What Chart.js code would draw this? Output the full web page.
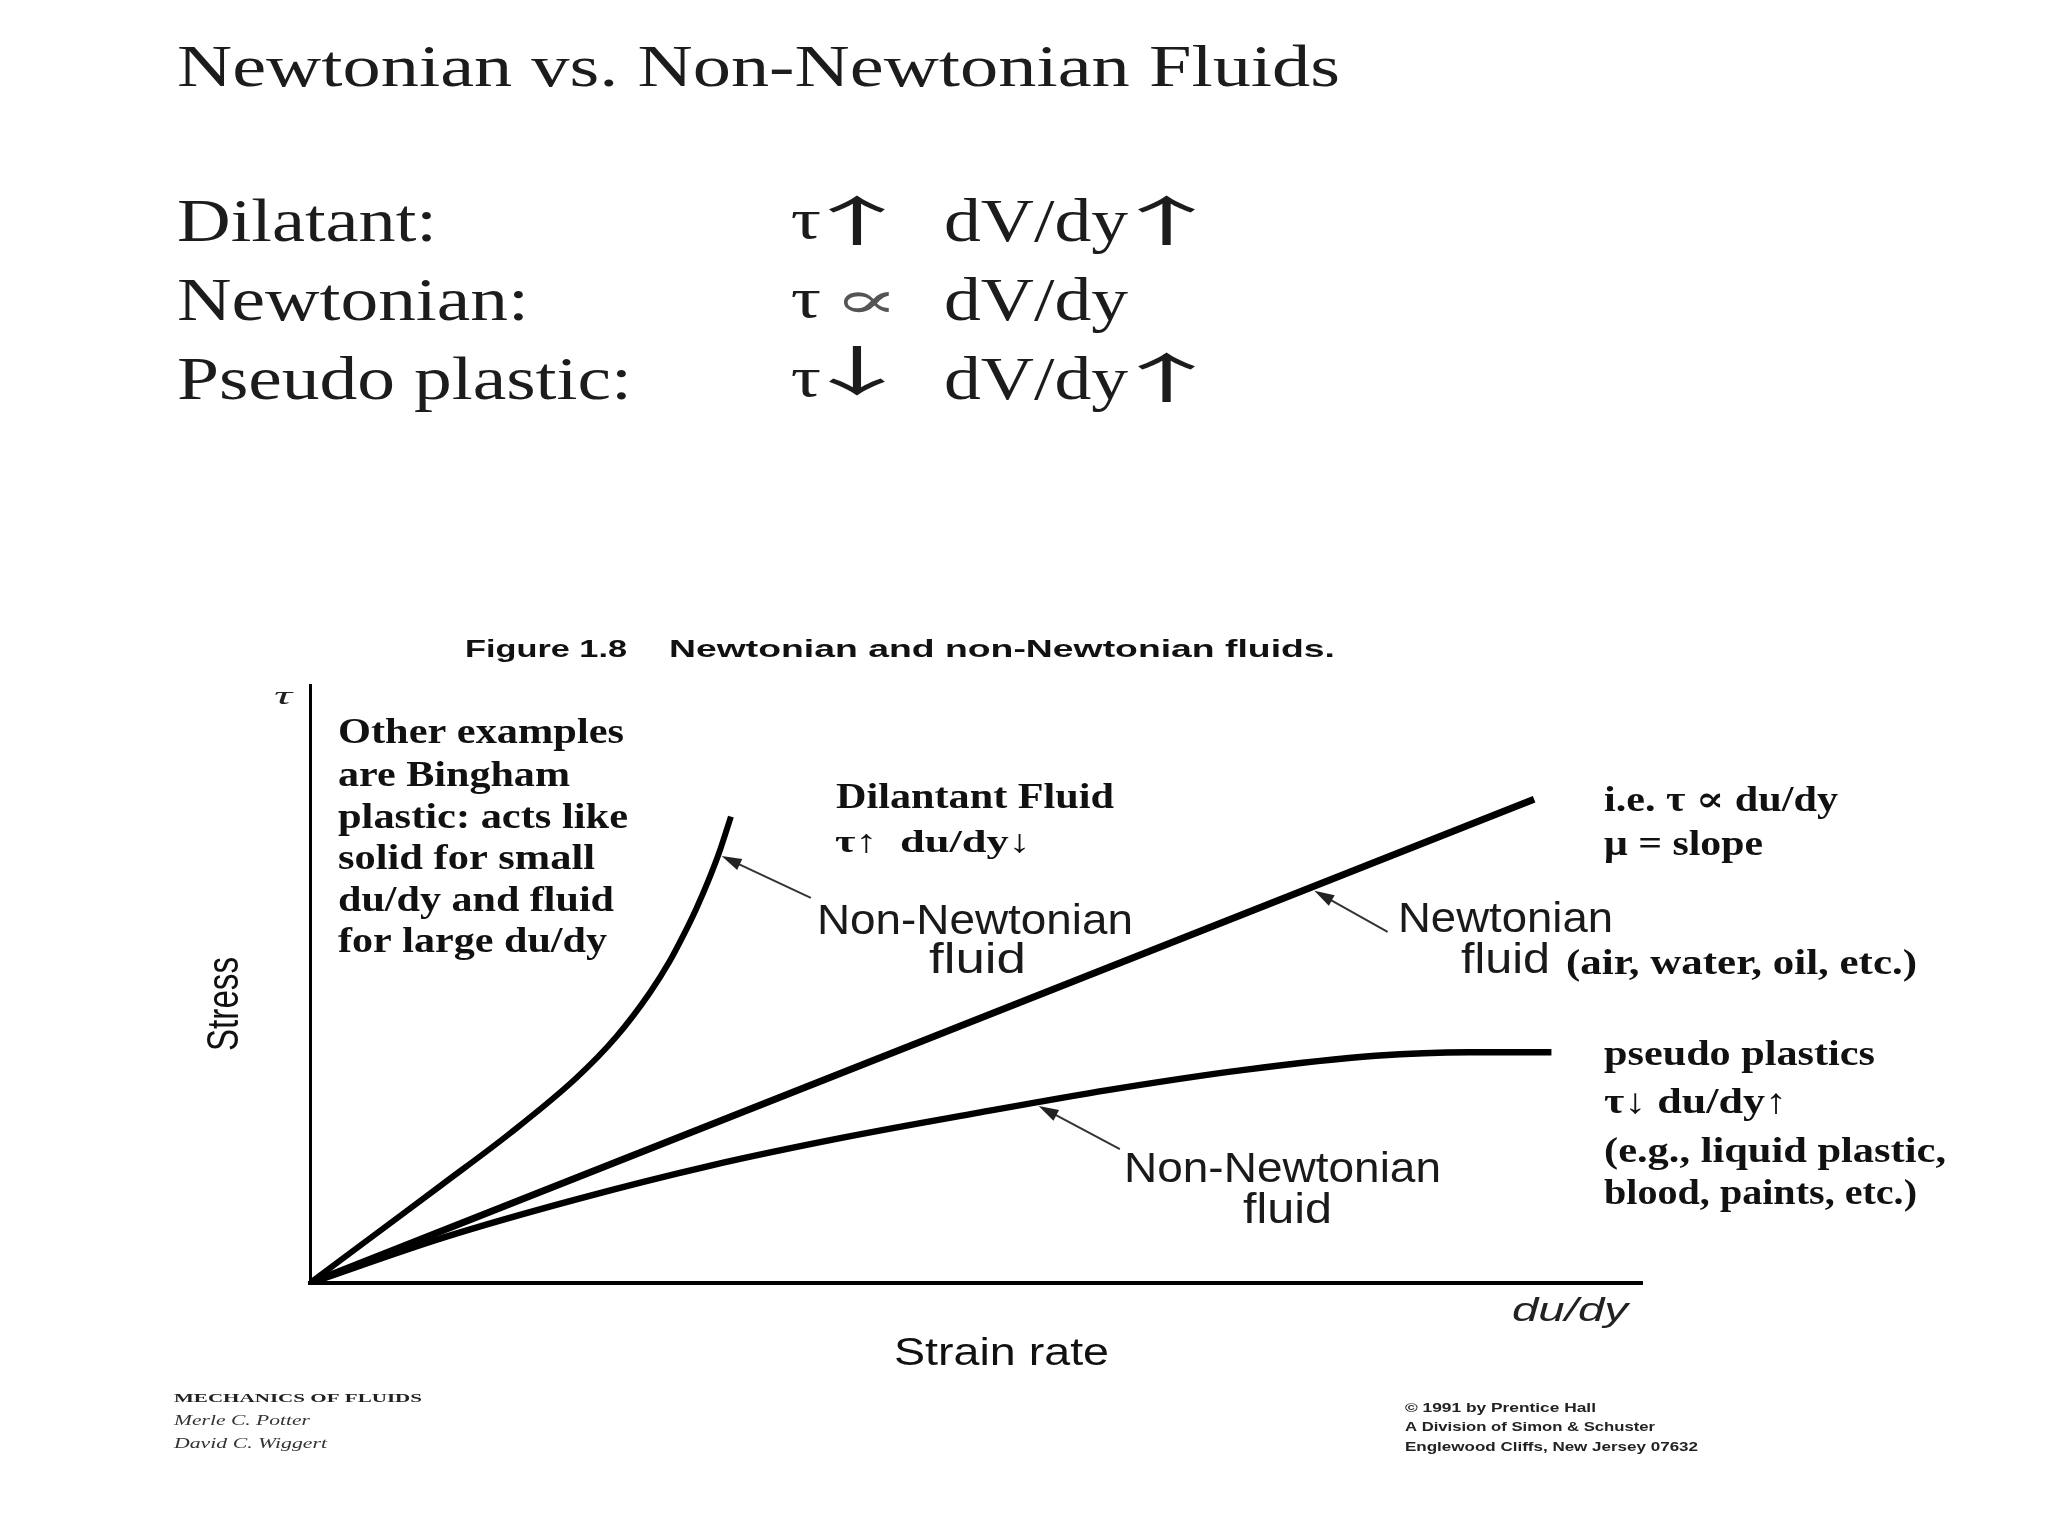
<!DOCTYPE html>
<html>
<head>
<meta charset="utf-8">
<script src="https://cdn.jsdelivr.net/npm/chart.js@4.4.1/dist/chart.umd.min.js"></script>
<style>
  html, body { margin: 0; padding: 0; background: #ffffff; }
  #wrap { width: 2048px; height: 1536px; position: relative; }
  canvas { display: block; }
</style>
</head>
<body>
<div id="wrap"><canvas id="c" width="2048" height="1536"></canvas></div>
<script>
// ---- Data (arbitrary units: strain rate du/dy on x, shear stress tau on y) ----
const dilatantX   = [0, 5, 10, 15, 20, 23, 25.5, 27, 28, 29, 30, 30.8, 31.6];
const dilatantY   = [0, 8.3, 16.6, 25.0, 34.3, 41.2, 48.5, 53.8, 58.0, 62.6, 67.8, 72.5, 78.0];
const newtonianX  = [0, 91.9];
const newtonianY  = [0, 80.9];
const pseudoX     = [0, 10, 20, 30, 40, 50, 60, 70, 80, 87, 93.2];
const pseudoY     = [0, 7.6, 14.0, 19.6, 24.3, 28.4, 32.3, 35.6, 38.0, 38.6, 38.6];
const seriesNames = ['Dilatant fluid', 'Newtonian fluid', 'Pseudo plastic fluid'];

// annotation arrows: [tailX, tailY, tipX, tipY] in data units
const arrowDilatant  = [37.6, 64.4, 30.9, 71.4];
const arrowNewtonian = [80.9, 58.7, 75.4, 65.6];
const arrowPseudo    = [60.8, 22.4, 54.7, 29.6];

const toPts = (xs, ys) => xs.map((x, i) => ({ x: x, y: ys[i] }));

const SERIF = "'Liberation Serif', 'Times New Roman', 'DejaVu Serif', serif";
const SANS  = "'Liberation Sans', Arial, 'DejaVu Sans', sans-serif";
const CJK   = "'Noto Sans CJK JP', 'Noto Sans CJK SC', 'DejaVu Sans', sans-serif";

function txt(ctx, s, x, y, font, w, color) {
  ctx.save();
  ctx.font = font;
  ctx.fillStyle = color || '#111';
  ctx.textAlign = 'left';
  ctx.textBaseline = 'alphabetic';
  const m = ctx.measureText(s).width;
  const sx = w ? w / m : 1;
  ctx.translate(x, y);
  ctx.scale(sx, 1);
  ctx.fillText(s, 0, 0);
  ctx.restore();
}

// fit the ink box of a text into a rectangle
function fitText(ctx, s, x0, y0, x1, y1, font, color) {
  ctx.save();
  ctx.font = font;
  ctx.fillStyle = color || '#111';
  ctx.textAlign = 'left';
  ctx.textBaseline = 'alphabetic';
  const m = ctx.measureText(s);
  const w = m.actualBoundingBoxLeft + m.actualBoundingBoxRight;
  const h = m.actualBoundingBoxAscent + m.actualBoundingBoxDescent;
  const sx = (x1 - x0) / w, sy = (y1 - y0) / h;
  ctx.translate(x0 + m.actualBoundingBoxLeft * sx, y0 + m.actualBoundingBoxAscent * sy);
  ctx.scale(sx, sy);
  ctx.fillText(s, 0, 0);
  ctx.restore();
}

function arrow(ctx, chart, a) {
  const xs = chart.scales.x, ys = chart.scales.y;
  const x0 = xs.getPixelForValue(a[0]), y0 = ys.getPixelForValue(a[1]);
  const x1 = xs.getPixelForValue(a[2]), y1 = ys.getPixelForValue(a[3]);
  const ang = Math.atan2(y1 - y0, x1 - x0);
  const L = 20, W = 6;
  ctx.save();
  ctx.strokeStyle = '#333';
  ctx.fillStyle = '#222';
  ctx.lineWidth = 2;
  ctx.beginPath();
  ctx.moveTo(x0, y0);
  ctx.lineTo(x1 - Math.cos(ang) * L * 0.8, y1 - Math.sin(ang) * L * 0.8);
  ctx.stroke();
  ctx.beginPath();
  ctx.moveTo(x1, y1);
  ctx.lineTo(x1 - Math.cos(ang) * L - Math.sin(ang) * W, y1 - Math.sin(ang) * L + Math.cos(ang) * W);
  ctx.lineTo(x1 - Math.cos(ang) * L + Math.sin(ang) * W, y1 - Math.sin(ang) * L - Math.cos(ang) * W);
  ctx.closePath();
  ctx.fill();
  ctx.restore();
}

const textPlugin = {
  id: 'textPlugin',
  afterDraw(chart) {
    const ctx = chart.ctx;
    // ---- slide header ----
    const hdr = '#1c1c1c';
    txt(ctx, 'Newtonian vs. Non-Newtonian Fluids', 177, 86, '60px ' + SERIF, 1163, hdr);
    txt(ctx, 'Dilatant:', 177, 241, '62px ' + SERIF, 260, hdr);
    txt(ctx, 'Newtonian:', 177, 320, '62px ' + SERIF, 352, hdr);
    txt(ctx, 'Pseudo plastic:', 177, 399, '62px ' + SERIF, 455, hdr);
    // row 1
    fitText(ctx, 'τ', 792, 212, 820, 239, '62px ' + SERIF, hdr);
    fitText(ctx, '↑', 829, 195, 885, 245, '60px ' + CJK, hdr);
    txt(ctx, 'dV/dy', 944, 241, '62px ' + SERIF, 184, hdr);
    fitText(ctx, '↑', 1138, 195, 1195, 245, '60px ' + CJK, hdr);
    // row 2
    fitText(ctx, 'τ', 792, 291, 820, 318, '62px ' + SERIF, hdr);
    fitText(ctx, '∝', 843, 292, 890, 313, '60px ' + SERIF, '#555');
    txt(ctx, 'dV/dy', 944, 320, '62px ' + SERIF, 184, hdr);
    // row 3
    fitText(ctx, 'τ', 792, 370, 820, 397, '62px ' + SERIF, hdr);
    fitText(ctx, '↓', 829, 345, 885, 395, '60px ' + CJK, hdr);
    txt(ctx, 'dV/dy', 944, 399, '62px ' + SERIF, 184, hdr);
    fitText(ctx, '↑', 1138, 352, 1195, 402, '60px ' + CJK, hdr);

    // ---- figure caption ----
    txt(ctx, 'Figure 1.8', 465, 657, 'bold 24px ' + SANS, 162, '#111');
    txt(ctx, 'Newtonian and non-Newtonian fluids.', 669, 657, 'bold 24px ' + SANS, 666, '#111');

    // ---- axis labels ----
    txt(ctx, 'τ', 274, 704, 'italic 26px ' + SERIF, 18, '#222');
    ctx.save();
    ctx.translate(238, 1051);
    ctx.rotate(-Math.PI / 2);
    txt(ctx, 'Stress', 0, 0, '44px ' + SANS, 94, '#111');
    ctx.restore();
    txt(ctx, 'du/dy', 1512, 1321, 'italic 34px ' + SANS, 116, '#222');
    txt(ctx, 'Strain rate', 894, 1365, '38px ' + SANS, 215, '#111');

    // ---- left bold note ----
    const B = 'bold 35px ' + SERIF;
    txt(ctx, 'Other examples', 338, 743, B, 286);
    txt(ctx, 'are Bingham', 338, 786, B, 232);
    txt(ctx, 'plastic: acts like', 338, 828, B, 290);
    txt(ctx, 'solid for small', 338, 869, B, 257);
    txt(ctx, 'du/dy and fluid', 338, 911, B, 276);
    txt(ctx, 'for large du/dy', 338, 952, B, 269);

    // ---- dilatant labels ----
    txt(ctx, 'Dilantant Fluid', 836, 808, B, 278);
    txt(ctx, 'τ↑  du/dy↓', 835, 852, 'bold 32px ' + SERIF, 196);
    txt(ctx, 'Non-Newtonian', 817, 934, '42px ' + SANS, 316, '#1a1a1a');
    txt(ctx, 'fluid', 929, 973, '42px ' + SANS, 97, '#1a1a1a');

    // ---- newtonian labels ----
    txt(ctx, 'i.e. τ ∝ du/dy', 1604, 811, B, 234);
    txt(ctx, 'μ = slope', 1604, 855, B, 159);
    txt(ctx, 'Newtonian', 1398, 932, '42px ' + SANS, 215, '#1a1a1a');
    txt(ctx, 'fluid', 1461, 973, '42px ' + SANS, 89, '#1a1a1a');
    txt(ctx, '(air, water, oil, etc.)', 1566, 974, B, 351);

    // ---- pseudo plastic labels ----
    txt(ctx, 'pseudo plastics', 1604, 1065, B, 271);
    txt(ctx, 'τ↓ du/dy↑', 1604, 1113, B, 183);
    txt(ctx, '(e.g., liquid plastic,', 1604, 1162, B, 342);
    txt(ctx, 'blood, paints, etc.)', 1604, 1204, B, 313);
    txt(ctx, 'Non-Newtonian', 1124, 1182, '42px ' + SANS, 317, '#1a1a1a');
    txt(ctx, 'fluid', 1243, 1223, '42px ' + SANS, 89, '#1a1a1a');

    // ---- arrows ----
    arrow(ctx, chart, arrowDilatant);
    arrow(ctx, chart, arrowNewtonian);
    arrow(ctx, chart, arrowPseudo);

    // ---- footnotes ----
    txt(ctx, 'MECHANICS OF FLUIDS', 174, 1402, 'bold 13px ' + SERIF, 248, '#222');
    txt(ctx, 'Merle C. Potter', 174, 1425, 'italic 14px ' + SERIF, 136, '#333');
    txt(ctx, 'David C. Wiggert', 174, 1448, 'italic 14px ' + SERIF, 153, '#333');
    txt(ctx, '© 1991 by Prentice Hall', 1405, 1412, 'bold 13px ' + SANS, 191, '#222');
    txt(ctx, 'A Division of Simon & Schuster', 1405, 1431, 'bold 13px ' + SANS, 250, '#222');
    txt(ctx, 'Englewood Cliffs, New Jersey 07632', 1405, 1451, 'bold 13px ' + SANS, 293, '#222');
  }
};

const chart = new Chart(document.getElementById('c'), {
  type: 'line',
  data: {
    datasets: [
      { label: seriesNames[0], data: toPts(dilatantX, dilatantY), borderColor: '#000', borderWidth: 6,
        pointRadius: 0, cubicInterpolationMode: 'monotone', fill: false },
      { label: seriesNames[1], data: toPts(newtonianX, newtonianY), borderColor: '#000', borderWidth: 7,
        pointRadius: 0, tension: 0, fill: false },
      { label: seriesNames[2], data: toPts(pseudoX, pseudoY), borderColor: '#000', borderWidth: 6.5,
        pointRadius: 0, cubicInterpolationMode: 'monotone', fill: false }
    ]
  },
  options: {
    responsive: false,
    animation: false,
    devicePixelRatio: 1,
    layout: { padding: { left: 310, right: 406, top: 685, bottom: 253 } },
    plugins: { legend: { display: false }, tooltip: { enabled: false }, title: { display: false } },
    scales: {
      x: {
        type: 'linear', min: 0, max: 100,
        ticks: { display: false },
        grid: { display: true, color: 'rgba(0,0,0,0)', drawTicks: false },
        border: { display: true, color: '#000', width: 4 },
        afterFit(s) { s.height = 0; }
      },
      y: {
        type: 'linear', min: 0, max: 100,
        ticks: { display: false },
        grid: { display: true, color: 'rgba(0,0,0,0)', drawTicks: false },
        border: { display: true, color: '#000', width: 3 },
        afterFit(s) { s.width = 0; }
      }
    }
  },
  plugins: [textPlugin]
});
</script>
</body>
</html>
